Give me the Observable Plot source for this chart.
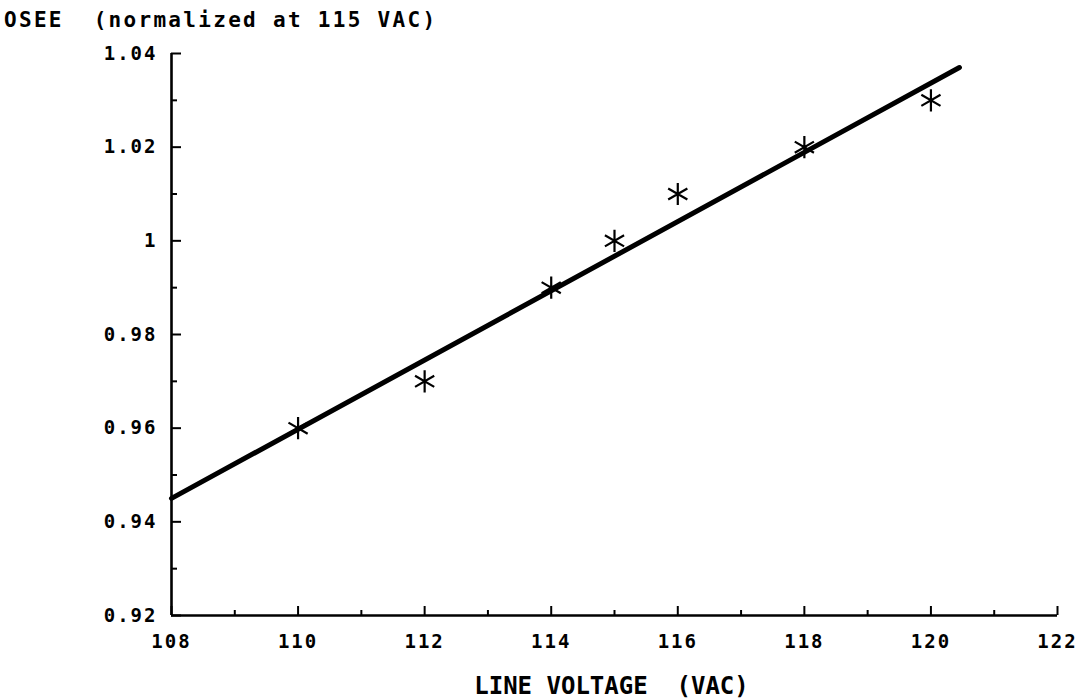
<!DOCTYPE html>
<html>
<head>
<meta charset="utf-8">
<script src="https://cdn.jsdelivr.net/npm/d3@7"></script>
<script src="https://cdn.jsdelivr.net/npm/@observablehq/plot@0.6"></script>
<style>
  html, body { margin: 0; padding: 0; background: #fff; }
  #wrap { position: relative; width: 1084px; height: 700px; }
  #title {
    position: absolute; left: 4px; top: 10px;
    font-family: "DejaVu Sans Mono", monospace; font-size: 21px; font-weight: bold; line-height: 1;
    letter-spacing: 2.3px; color: #000; white-space: pre;
  }
  svg text { letter-spacing: 2px; font-weight: bold; }
  svg .xlabel text, svg text.xlabel { letter-spacing: 0px; }
</style>
</head>
<body>
<div id="wrap">
  <div id="title">OSEE  (normalized at 115 VAC)</div>
  <div id="chart"></div>
</div>
<script>
// Measured data (asterisks)
const voltage = [110, 112, 114, 115, 116, 118, 120];
const osee = [0.96, 0.97, 0.99, 1.00, 1.01, 1.02, 1.03];

// Fitted straight line, endpoints
const fitVoltage = [108, 120.45];
const fitOsee = [0.945, 1.037];

// Ticks
const xMajor = [108, 110, 112, 114, 116, 118, 120, 122];
const xMajorLabels = ["108", "110", "112", "114", "116", "118", "120", "122"];
const xMinor = [109, 111, 113, 115, 117, 119, 121];
const yMajor = [0.92, 0.94, 0.96, 0.98, 1.00, 1.02, 1.04];
const yMajorLabels = ["0.92", "0.94", "0.96", "0.98", "1", "1.02", "1.04"];
const yMinor = [0.93, 0.95, 0.97, 0.99, 1.01, 1.03];
const xAxisLabel = ["LINE VOLTAGE  (VAC)"];

const points = voltage.map((v, i) => ({v, o: osee[i]}));
const fit = fitVoltage.map((v, i) => ({v, o: fitOsee[i]}));

const chart = Plot.plot({
  width: 1084,
  height: 700,
  marginLeft: 171,
  marginRight: 27,
  marginTop: 53,
  marginBottom: 85,
  style: {fontFamily: "DejaVu Sans Mono, monospace", fontSize: "19px", color: "#000", background: "#fff"},
  x: {domain: [108, 122]},
  y: {domain: [0.92, 1.04]},
  marks: [
    Plot.axisX({
      ticks: xMajor, tickSize: -9, tickPadding: 28, strokeWidth: 2,
      tickFormat: d => xMajorLabels[xMajor.indexOf(d)],
      label: null
    }),
    Plot.axisX({ticks: xMinor, tickSize: -5, strokeWidth: 2, tickFormat: () => "", label: null}),
    Plot.axisY({
      ticks: yMajor, tickSize: -10, tickPadding: 24, strokeWidth: 2,
      tickFormat: d => yMajorLabels[yMajor.indexOf(d)],
      label: null
    }),
    Plot.axisY({ticks: yMinor, tickSize: -6, strokeWidth: 2, tickFormat: () => "", label: null}),
    Plot.text(xAxisLabel, {
      text: d => d, frameAnchor: "bottom", dy: 71, dx: -3, lineAnchor: "middle",
      fontSize: 24, fill: "#000", className: "xlabel"
    }),
    Plot.ruleY([0.92], {strokeWidth: 2.6}),
    Plot.ruleX([108], {strokeWidth: 2.6}),
    Plot.line(fit, {x: "v", y: "o", stroke: "#000", strokeWidth: 5, strokeLinecap: "round"}),
    Plot.dot(points, {x: "v", y: "o", symbol: "asterisk", r: 10.5, stroke: "#000", strokeWidth: 2.2})
  ]
});
document.getElementById("chart").appendChild(chart);
</script>
</body>
</html>
